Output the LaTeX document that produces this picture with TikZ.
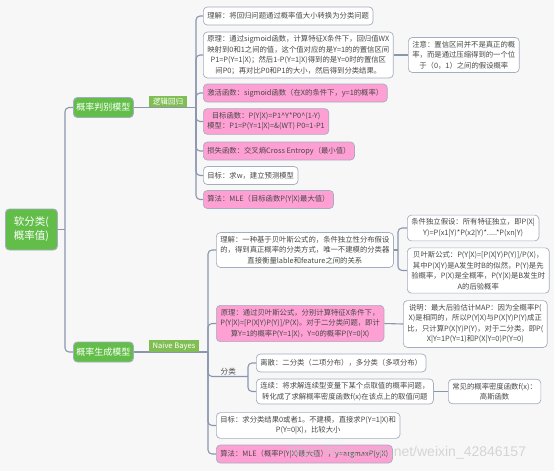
\documentclass[tikz,border=0pt]{standalone}
\usepackage{fontspec}
\setmainfont{Noto Sans CJK SC}
\newfontfamily\wmfont{Liberation Sans}
\definecolor{bg1}{RGB}{247,247,247}
\definecolor{green1}{RGB}{98,190,72}
\definecolor{green2}{RGB}{128,190,84}
\definecolor{pink1}{RGB}{255,160,212}
\definecolor{edge1}{RGB}{164,174,192}
\definecolor{line1}{RGB}{138,150,172}
\definecolor{text1}{RGB}{72,72,72}
\usetikzlibrary{positioning, calc}
\tikzset{
  topic/.style={draw=edge1, line width=0.9pt, fill=green1, text=white, rounded corners=4pt, align=center, inner sep=3pt, anchor=west},
  tag/.style={fill=green2, text=white, font=\fontsize{7.6}{9}\selectfont, inner xsep=4pt, inner ysep=2pt, anchor=south},
  wbox/.style={draw=edge1, line width=0.7pt, fill=white, rounded corners=4pt, text=text1, align=center, font=\fontsize{7.35}{10.5}\selectfont, inner xsep=4pt, inner ysep=3.5pt, minimum height=18pt, anchor=west},
  pbox/.style={wbox, fill=pink1},
  conn/.style={draw=line1, line width=1.1pt, rounded corners=4pt}
}

\begin{document}
\begin{tikzpicture}[x=1pt, y=-1pt]
  \fill[bg1] (0,0) rectangle (554,471);
  \useasboundingbox (0,0) rectangle (554,471);

  % main topics
  \node[topic, minimum width=52pt, minimum height=41pt, font=\fontsize{10.5}{14}\selectfont] (root) at (5,229.5) {软分类(\\概率值)};
  \node[topic, minimum width=60pt, minimum height=20pt, font=\fontsize{9}{11}\selectfont] (disc) at (73,107.5) {概率判别模型};
  \node[topic, minimum width=60pt, minimum height=20pt, font=\fontsize{9}{11}\selectfont] (gen) at (73,352) {概率生成模型};

  \coordinate (rootT) at (65,229.5);
  \draw[conn] (root.east) -- (rootT);
  \draw[conn] (rootT) |- (disc.west);
  \draw[conn] (rootT) |- (gen.west);

  % logistic regression
  \coordinate (lrT) at (196,107.5);
  \draw[conn] (disc.east) -- (lrT);
  \node[tag] (lrtag) at (168,107.5) {逻辑回归};

  \node[wbox] (lr1) at (203,16) {理解：将回归问题通过概率值大小转换为分类问题};
  \node[wbox] (lr2) at (203,55) {原理：通过sigmoid函数，计算特征X条件下，回归值WX\\映射到0和1之间的值，这个值对应的是Y=1的的置信区间\\P1=P(Y=1|X)；然后1-P(Y=1|X)得到的是Y=0时的置信区\\间P0；再对比P0和P1的大小，然后得到分类结果。};
  \node[wbox] (lr2n) at (408,55) {注意：置信区间并不是真正的概\\率，而是通过压缩得到的一个位\\于（0，1）之间的假设概率};
  \node[pbox] (lr3) at (203,93) {激活函数：sigmoid函数（在X的条件下，y=1的概率）};
  \node[pbox] (lr4) at (203,121.5) {目标函数：P(Y|X)=P1\textasciicircum Y*P0\textasciicircum(1-Y)\\模型：P1=P(Y=1|X)=\&(WT) P0=1-P1};
  \node[pbox] (lr5) at (203,151) {损失函数：交叉熵Cross Entropy（最小值）};
  \node[wbox] (lr6) at (203,175.5) {目标：求w，建立预测模型};
  \node[pbox] (lr7) at (203,199.5) {算法：MLE（目标函数P(Y|X)最大值）};

  \foreach \n in {lr1,lr2,lr3,lr4,lr5,lr6,lr7}
    \draw[conn] (lrT) |- (\n.west);
  \draw[conn] (lr2.east) -- (lr2n.west);

  % naive bayes
  \coordinate (nbT) at (208,352);
  \draw[conn] (gen.east) -- (nbT);
  \node[tag] (nbtag) at (174,352) {Naive Bayes};

  \node[wbox] (nb1) at (216,250) {理解：一种基于贝叶斯公式的，条件独立性分布假设\\的，得到真正概率的分类方式，唯一不建模的分类器\\直接衡量lable和feature之间的关系};
  \node[wbox] (nb1a) at (407,228) {条件独立假设：所有特征独立，即P(X|\\Y)=P(x1|Y)*P(x2|Y)*.....*P(xn|Y)};
  \node[wbox] (nb1b) at (407,270.5) {贝叶斯公式：P(Y|X)=[P(X|Y)P(Y)]/P(X)，\\其中P(X|Y)是A发生时B的似然，P(Y)是先\\验概率，P(X)是全概率，P(Y|X)是B发生时\\A的后验概率};
  \node[pbox] (nb2) at (216,323.5) {原理：通过贝叶斯公式，分别计算特征X条件下，\\P(Y|X)=[P(X|Y)P(Y)]/P(X)。对于二分类问题，即计\\算Y=1的概率P(Y=1|X)，Y=0的概率P(Y=0|X)};
  \node[wbox] (nb2n) at (403,324) {说明：最大后验估计MAP：因为全概率P(\\X)是相同的，所以P(Y|X)与P(X|Y)P(Y)成正\\比，只计算P(X|Y)P(Y)，对于二分类，即P(\\X|Y=1P(Y=1)和P(X|Y=0)P(Y=0)};
  \node[text=text1, font=\fontsize{7.6}{9}\selectfont, inner sep=1.5pt, anchor=south west] (cls) at (219,376.5) {分类};
  \node[wbox] (c1) at (256,363) {离散：二分类（二项分布），多分类（多项分布）};
  \node[wbox] (c2) at (256,391.5) {连续：将求解连续型变量下某个点取值的概率问题，\\转化成了求解概率密度函数f(x)在该点上的取值问题};
  \node[wbox] (c2n) at (448,391.5) {常见的概率密度函数f(x)：\\高斯函数};
  \node[wbox] (nb4) at (216,425.5) {目标：求分类结果0或者1。不建模，直接求P(Y=1|X)和\\P(Y=0|X)，比较大小};
  \node[pbox] (nb5) at (216,454) {算法：MLE（概率P(Y|X)最大值），y=argmaxP(y|X)};

  \foreach \n in {nb1,nb2,nb4,nb5}
    \draw[conn] (nbT) |- (\n.west);
  \coordinate (nb1T) at (398,250);
  \draw[conn] (nb1.east) -- (nb1T);
  \draw[conn] (nb1T) |- (nb1a.west);
  \draw[conn] (nb1T) |- (nb1b.west);
  \draw[conn] (nb2.east) -- (nb2n.west);
  \coordinate (clsT) at (248,376.5);
  \draw[conn] (nbT) |- (clsT);
  \draw[conn] (clsT) |- (c1.west);
  \draw[conn] (clsT) |- (c2.west);
  \draw[conn] (c2.east) -- (c2n.west);

  \node[font=\wmfont\fontsize{14}{14}\selectfont, text=gray!45, opacity=0.7] (wm) at (407,453) {https://blog.csdn.net/weixin\_42846157};
\end{tikzpicture}
\end{document}
